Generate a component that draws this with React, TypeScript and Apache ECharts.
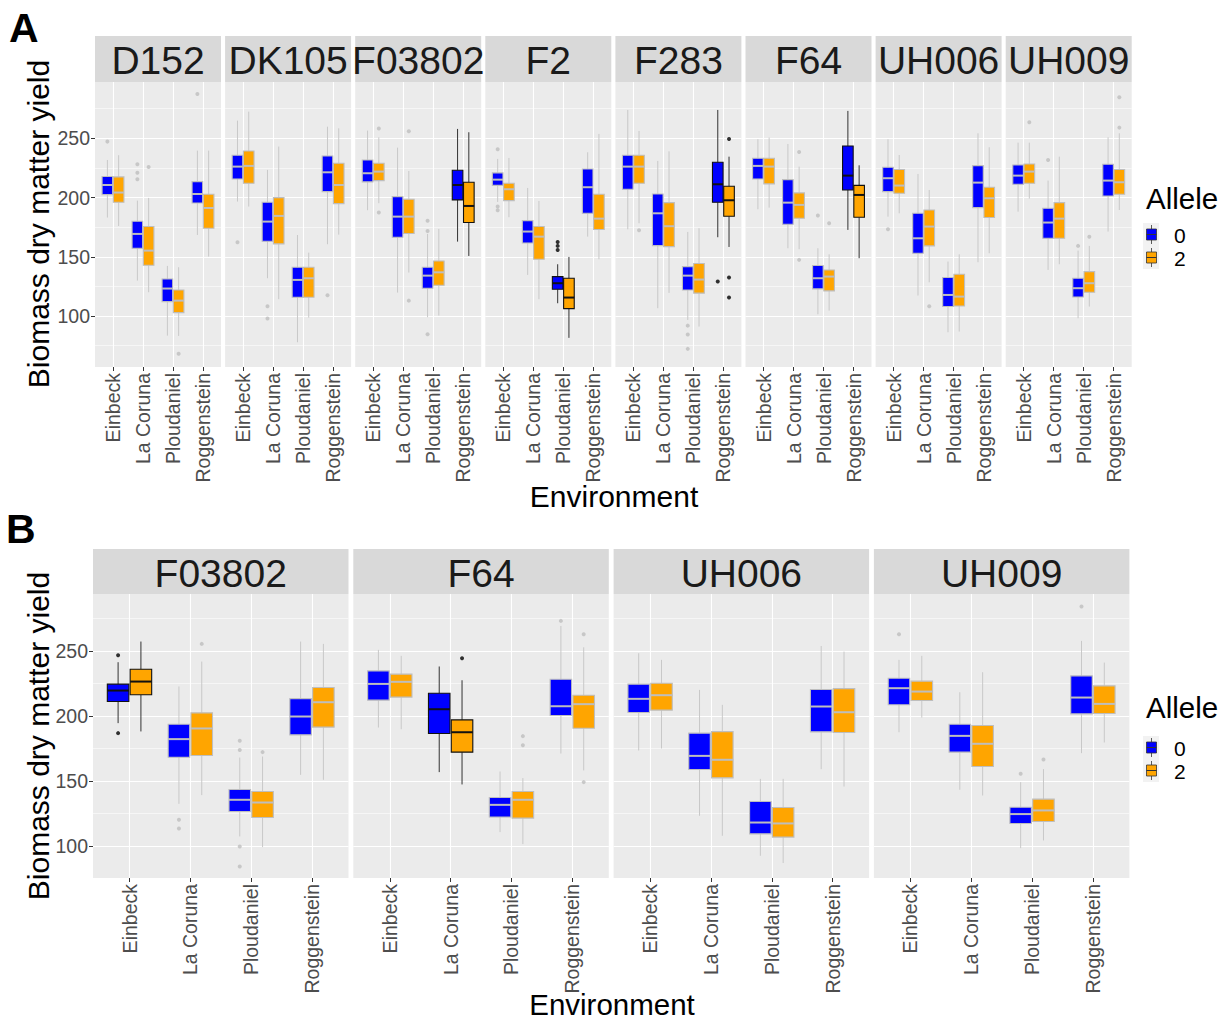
import React, { useEffect, useRef } from 'react';
import * as echarts from 'echarts';

// ---------- data ----------
const environments = ['Einbeck', 'La Coruna', 'Ploudaniel', 'Roggenstein'];
const alleles = ['0', '2'];
const facetsA = ['D152', 'DK105', 'F03802', 'F2', 'F283', 'F64', 'UH006', 'UH009'];
const facetsB = ['F03802', 'F64', 'UH006', 'UH009'];
const yTickValues = [100, 150, 200, 250];
const yMinorA = [75, 125, 175, 225, 275];
const yMinorB = [125, 175, 225, 275];

// box stats per environment: [lower whisker, Q1, median, Q3, upper whisker]
// Panel A
const A_D152_0 = [[183.1, 202.5, 210.6, 217.7, 231.7], [129.9, 157.2, 169.3, 180.0, 197.4], [83.5, 112.2, 123.2, 131.3, 142.3], [168.4, 195.4, 203.0, 213.4, 239.6]];
const A_D152_2 = [[176.0, 196.0, 204.2, 217.4, 235.7], [120.1, 142.9, 155.2, 175.5, 199.7], [83.2, 102.9, 113.0, 122.0, 141.2], [150.2, 174.1, 191.2, 202.8, 239.6]];
const A_DK105_0 = [[196.6, 215.7, 226.1, 235.7, 264.9], [131.9, 163.1, 179.7, 196.0, 223.3], [77.9, 115.9, 130.5, 141.2, 168.4], [160.6, 205.0, 221.3, 235.1, 259.8]];
const A_DK105_2 = [[192.4, 212.0, 226.7, 239.3, 272.5], [114.2, 160.9, 184.5, 199.9, 243.0], [98.7, 115.9, 131.9, 141.2, 153.5], [168.7, 194.9, 210.6, 228.9, 258.4]];
const A_F03802_0 = [[189.3, 213.2, 220.5, 231.7, 256.5], [119.8, 166.5, 183.9, 200.8, 242.1], [99.0, 123.5, 134.1, 141.2, 169.3], [162.8, 198.0, 210.6, 223.0, 257.9]];
const A_F03802_2 = [[195.2, 214.3, 221.9, 228.9, 250.8], [136.7, 169.6, 183.9, 198.5, 222.4], [100.4, 126.0, 136.9, 146.5, 173.5], [150.7, 178.9, 192.9, 212.9, 255.1]];
const A_F2_0 = [[196.3, 210.3, 215.1, 220.8, 232.6], [134.7, 161.7, 171.3, 180.5, 208.1], [110.8, 122.6, 127.7, 133.3, 143.7], [167.0, 186.7, 208.7, 224.1, 238.2]];
const A_F2_2 = [[183.4, 197.4, 207.0, 212.0, 233.4], [114.2, 147.9, 167.0, 175.5, 197.1], [81.6, 106.3, 115.6, 131.9, 149.9], [147.9, 173.0, 182.2, 202.8, 253.7]];
const A_F283_0 = [[173.2, 207.0, 226.1, 235.7, 273.9], [106.6, 159.4, 186.7, 203.0, 230.9], [96.7, 122.0, 134.1, 141.7, 171.0], [166.5, 196.0, 211.2, 229.8, 273.9]];
const A_F283_2 = [[178.3, 212.0, 226.1, 235.7, 256.2], [119.5, 158.6, 175.8, 195.7, 239.0], [91.1, 119.3, 130.8, 144.3, 174.1], [158.3, 184.2, 197.7, 209.5, 234.5]];
const A_F64_0 = [[190.1, 215.7, 226.7, 233.1, 249.2], [157.2, 177.4, 195.7, 215.1, 245.2], [101.5, 122.9, 131.9, 142.6, 157.2], [172.7, 206.4, 218.5, 243.5, 273.1]];
const A_F64_2 = [[191.5, 211.5, 226.1, 233.1, 250.6], [156.4, 182.5, 193.8, 203.9, 226.1], [104.6, 121.2, 133.3, 138.9, 152.1], [148.8, 183.4, 202.2, 210.3, 227.2]];
const A_UH006_0 = [[183.9, 205.0, 216.3, 225.5, 249.2], [117.3, 153.0, 165.6, 186.7, 219.9], [86.3, 108.0, 117.8, 132.5, 146.0], [145.4, 191.5, 212.6, 226.9, 254.2]];
const A_UH006_2 = [[186.7, 203.6, 210.1, 223.6, 235.9], [128.5, 159.2, 175.5, 189.5, 206.4], [86.9, 108.5, 116.4, 135.3, 152.1], [153.0, 183.1, 199.4, 208.7, 242.4]];
const A_UH009_0 = [[188.1, 211.2, 218.5, 227.5, 246.3], [138.9, 165.6, 178.9, 190.9, 214.3], [98.1, 116.1, 123.5, 131.9, 155.2], [171.3, 201.3, 214.3, 228.1, 250.8]];
const A_UH009_2 = [[199.1, 212.0, 221.9, 228.3, 246.3], [143.7, 165.6, 182.2, 195.7, 234.5], [108.0, 120.1, 127.7, 137.5, 159.2], [189.5, 202.8, 212.9, 223.6, 254.2]];

// outliers: [environment index, value]
const A_D152_out0 = [[0, 247.2], [1, 228.1], [1, 221.0], [1, 215.4], [3, 287.4]];
const A_D152_out2 = [[1, 225.8], [2, 68.1]];
const A_DK105_out0 = [[0, 162.3], [1, 108.3], [1, 97.9], [3, 117.5]];
const A_DK105_out2: number[][] = [];
const A_F03802_out0 = [[2, 180.5], [2, 171.8], [2, 84.6]];
const A_F03802_out2 = [[0, 258.2], [0, 187.3], [1, 255.9], [1, 113.0]];
const A_F2_out0 = [[0, 240.7], [0, 192.4], [0, 189.3], [2, 162.5], [2, 159.2], [2, 155.8]];
const A_F2_out2: number[][] = [];
const A_F283_out0 = [[2, 91.9], [2, 84.4], [2, 72.3], [3, 129.1]];
const A_F283_out2 = [[0, 172.4], [3, 249.4], [3, 132.5], [3, 115.6]];
const A_F64_out0 = [[2, 184.8]];
const A_F64_out2 = [[1, 238.5], [1, 147.4], [2, 178.3]];
const A_UH006_out0 = [[0, 173.2]];
const A_UH006_out2 = [[1, 108.3]];
const A_UH009_out0 = [[1, 231.7], [2, 159.2]];
const A_UH009_out2 = [[0, 263.5], [2, 167.0], [3, 259.0], [3, 284.6]];

// Panel B
const B_F03802_0 = [[194.4, 211.0, 219.5, 224.4, 241.3], [132.3, 168.2, 182.1, 193.6, 222.6], [107.2, 126.4, 135.4, 143.3, 167.9], [154.6, 185.4, 199.5, 213.3, 257.2]];
const B_F03802_2 = [[188.0, 216.2, 226.4, 235.9, 257.2], [139.0, 169.5, 190.3, 202.3, 241.8], [99.0, 121.8, 133.3, 141.8, 168.7], [150.8, 191.3, 210.5, 221.8, 255.4]];
const B_F64_0 = [[191.0, 212.1, 224.6, 234.6, 250.8], [156.7, 186.4, 205.1, 217.4, 238.0], [110.5, 122.1, 131.5, 137.2, 157.2], [171.0, 200.3, 207.4, 228.2, 269.2]];
const B_F64_2 = [[189.7, 214.4, 226.2, 232.1, 246.2], [147.2, 172.1, 187.4, 196.9, 227.4], [101.3, 121.3, 135.4, 141.8, 152.1], [158.0, 190.5, 209.0, 215.9, 252.8]];
const B_UH006_0 = [[173.3, 202.6, 213.1, 224.4, 248.2], [123.1, 158.7, 169.2, 186.7, 220.0], [92.3, 109.2, 117.9, 134.1, 151.5], [159.0, 187.7, 207.2, 220.3, 253.8]];
const B_UH006_2 = [[174.9, 204.4, 215.9, 225.1, 243.1], [107.7, 152.3, 166.2, 187.9, 208.5], [86.7, 106.7, 117.2, 129.5, 151.5], [145.6, 187.2, 202.8, 221.0, 249.5]];
const B_UH009_0 = [[187.4, 208.5, 221.3, 229.0, 243.1], [143.1, 172.1, 184.6, 193.6, 218.2], [98.2, 117.2, 124.4, 129.7, 149.0], [171.3, 201.5, 214.1, 230.8, 257.7]];
const B_UH009_2 = [[198.7, 211.8, 218.7, 226.7, 246.2], [138.7, 161.0, 178.5, 192.6, 233.6], [104.1, 118.7, 127.2, 135.9, 159.0], [179.5, 201.8, 209.2, 223.1, 241.0]];

const B_F03802_out0 = [[0, 246.7], [0, 186.7], [1, 120.0], [1, 113.3], [2, 180.8], [2, 173.8], [2, 99.5], [2, 84.1]];
const B_F03802_out2 = [[1, 255.4], [2, 172.1]];
const B_F64_out0 = [[3, 273.1]];
const B_F64_out2 = [[1, 244.4], [2, 184.4], [2, 177.4], [3, 262.8], [3, 149.0]];
const B_UH006_out0: number[][] = [];
const B_UH006_out2: number[][] = [];
const B_UH009_out0 = [[0, 262.8], [2, 155.4], [3, 284.1]];
const B_UH009_out2 = [[2, 166.4]];

// environments drawn with black outline
const highlightA: Record<string, number[]> = { F03802: [3], F2: [2], F283: [3], F64: [3] };
const highlightB: Record<string, number[]> = { F03802: [0], F64: [1] };

const statsA: Record<string, number[][][]> = {
  D152: [A_D152_0, A_D152_2], DK105: [A_DK105_0, A_DK105_2], F03802: [A_F03802_0, A_F03802_2],
  F2: [A_F2_0, A_F2_2], F283: [A_F283_0, A_F283_2], F64: [A_F64_0, A_F64_2],
  UH006: [A_UH006_0, A_UH006_2], UH009: [A_UH009_0, A_UH009_2],
};
const outA: Record<string, number[][][]> = {
  D152: [A_D152_out0, A_D152_out2], DK105: [A_DK105_out0, A_DK105_out2], F03802: [A_F03802_out0, A_F03802_out2],
  F2: [A_F2_out0, A_F2_out2], F283: [A_F283_out0, A_F283_out2], F64: [A_F64_out0, A_F64_out2],
  UH006: [A_UH006_out0, A_UH006_out2], UH009: [A_UH009_out0, A_UH009_out2],
};
const statsB: Record<string, number[][][]> = {
  F03802: [B_F03802_0, B_F03802_2], F64: [B_F64_0, B_F64_2], UH006: [B_UH006_0, B_UH006_2], UH009: [B_UH009_0, B_UH009_2],
};
const outB: Record<string, number[][][]> = {
  F03802: [B_F03802_out0, B_F03802_out2], F64: [B_F64_out0, B_F64_out2], UH006: [B_UH006_out0, B_UH006_out2], UH009: [B_UH009_out0, B_UH009_out2],
};

// ---------- styling ----------
const FONT = '"Liberation Sans", Arial, Helvetica, sans-serif';
const FILL = ['#0000FF', '#FFA500'];
const GREY = '#BEBEBE';
const BLACK = '#111111';
const DODGE = 0.1875;
const HALF_BOX = 0.177;

interface RowLayout {
  left: number; pitch: number; width: number; top: number; height: number;
  stripTop: number; yMin: number; yMax: number; minor: number[];
}
const rowA: RowLayout = { left: 95, pitch: 130.1, width: 126, top: 82, height: 285, stripTop: 36, yMin: 57, yMax: 297.5, minor: yMinorA };
const rowB: RowLayout = { left: 93, pitch: 260.3, width: 255.5, top: 594, height: 284, stripTop: 549, yMin: 75.2, yMax: 293.8, minor: yMinorB };

function buildOption() {
  const grid: any[] = [];
  const xAxis: any[] = [];
  const yAxis: any[] = [];
  const series: any[] = [];
  const graphic: any[] = [];
  const stripTexts: any[] = [];

  const addRow = (row: RowLayout, facets: string[], stats: Record<string, number[][][]>, outs: Record<string, number[][][]>, hl: Record<string, number[]>) => {
    facets.forEach((facet, i) => {
      const gi = grid.length;
      const left = row.left + i * row.pitch;
      grid.push({ left, top: row.top, width: row.width, height: row.height, show: true, backgroundColor: '#EBEBEB', borderWidth: 0 });
      xAxis.push({
        type: 'value', gridIndex: gi, min: 0.4, max: 4.6,
        axisLine: { show: false },
        axisTick: { show: true, customValues: [1, 2, 3, 4], length: 4, lineStyle: { color: '#333333', width: 1 } },
        axisLabel: {
          show: true, customValues: [1, 2, 3, 4], rotate: 90, margin: 6, fontSize: 19.5, color: '#4D4D4D', fontFamily: FONT,
          formatter: (v: number) => environments[Math.round(v) - 1] ?? '',
        },
        splitLine: { show: true, lineStyle: { color: '#FFFFFF', width: 1.1 } },
      });
      yAxis.push({
        type: 'value', gridIndex: gi, min: row.yMin, max: row.yMax, position: 'left',
        axisLine: { show: false },
        axisTick: { show: i === 0, customValues: yTickValues, length: 4, lineStyle: { color: '#333333', width: 1 } },
        axisLabel: { show: i === 0, customValues: yTickValues, margin: 5, fontSize: 19.5, color: '#4D4D4D', fontFamily: FONT },
        splitLine: { show: true, lineStyle: { color: '#FFFFFF', width: 1.1 } },
      });
      yAxis.push({
        type: 'value', gridIndex: gi, min: row.yMin, max: row.yMax, position: 'left',
        axisLine: { show: false },
        axisTick: { show: false, customValues: row.minor },
        axisLabel: { show: false, customValues: row.minor },
        splitLine: { show: true, lineStyle: { color: '#FFFFFF', width: 0.55 } },
      });
      const yIdx = 2 * gi;
      const hlList = hl[facet] || [];
      alleles.forEach((allele, a) => {
        const off = a === 0 ? -DODGE : DODGE;
        series.push({
          type: 'custom', name: `${facet} allele ${allele}`, xAxisIndex: gi, yAxisIndex: yIdx, silent: true, z: 2,
          encode: { x: 0, y: [1, 2, 3, 4, 5] },
          data: stats[facet][a].map((s, e) => [e + 1 + off, s[0], s[1], s[2], s[3], s[4], hlList.includes(e) ? 1 : 0]),
          renderItem: (_p: any, api: any) => {
            const x = api.value(0);
            const pMin = api.coord([x, api.value(1)]);
            const pQ1 = api.coord([x, api.value(2)]);
            const pMed = api.coord([x, api.value(3)]);
            const pQ3 = api.coord([x, api.value(4)]);
            const pMax = api.coord([x, api.value(5)]);
            const xl = api.coord([x - HALF_BOX, api.value(3)])[0];
            const xr = api.coord([x + HALF_BOX, api.value(3)])[0];
            const isHl = api.value(6) === 1;
            const stroke = isHl ? BLACK : GREY;
            const wStroke = isHl ? '#333333' : '#C8C8C8';
            return {
              type: 'group',
              children: [
                { type: 'line', shape: { x1: pQ3[0], y1: pQ3[1], x2: pMax[0], y2: pMax[1] }, style: { stroke: wStroke, lineWidth: 1 } },
                { type: 'line', shape: { x1: pQ1[0], y1: pQ1[1], x2: pMin[0], y2: pMin[1] }, style: { stroke: wStroke, lineWidth: 1 } },
                { type: 'rect', shape: { x: xl, y: pQ3[1], width: xr - xl, height: pQ1[1] - pQ3[1] }, style: { fill: FILL[a], stroke, lineWidth: 1.1 } },
                { type: 'line', shape: { x1: xl, y1: pMed[1], x2: xr, y2: pMed[1] }, style: { stroke, lineWidth: 2 } },
              ],
            };
          },
        });
        series.push({
          type: 'scatter', name: `${facet} outliers ${allele}`, xAxisIndex: gi, yAxisIndex: yIdx, silent: true, z: 3,
          symbol: 'circle', symbolSize: 4,
          data: outs[facet][a].map(([e, v]) => ({ value: [e + 1 + off, v], itemStyle: { color: hlList.includes(e) ? '#000000' : GREY } })),
        });
      });
      graphic.push({ type: 'rect', shape: { x: left, y: row.stripTop, width: row.width, height: row.top - row.stripTop }, style: { fill: '#D9D9D9' }, z: 10 });
      stripTexts.push({
        type: 'text', x: left + row.width / 2, y: (row.top + row.stripTop) / 2 + 1.5,
        style: { text: facet, fill: '#1A1A1A', fontSize: 39, fontFamily: FONT, textAlign: 'center', textVerticalAlign: 'middle' }, z: 11,
      });
    });
  };

  addRow(rowA, facetsA, statsA, outA, highlightA);
  addRow(rowB, facetsB, statsB, outB, highlightB);

  const titleStyle = { fill: '#000000', fontSize: 30, fontFamily: FONT, textAlign: 'center', textVerticalAlign: 'middle' };
  const yTitle = 'Biomass dry matter yield';
  const xTitle = 'Environment';
  graphic.push(...stripTexts);
  graphic.push(
    { type: 'text', x: 38, y: 224, rotation: Math.PI / 2, style: { ...titleStyle, text: yTitle }, z: 11 },
    { type: 'text', x: 38, y: 736, rotation: Math.PI / 2, style: { ...titleStyle, text: yTitle }, z: 11 },
    { type: 'text', x: 614, y: 496, style: { ...titleStyle, text: xTitle }, z: 11 },
    { type: 'text', x: 612, y: 1004, style: { ...titleStyle, fontSize: 29.5, text: xTitle }, z: 11 },
    { type: 'text', x: 9, y: 28, style: { text: 'A', fill: '#000', fontSize: 41, fontWeight: 'bold', fontFamily: FONT, textAlign: 'left', textVerticalAlign: 'middle' }, z: 11 },
    { type: 'text', x: 6, y: 529, style: { text: 'B', fill: '#000', fontSize: 41, fontWeight: 'bold', fontFamily: FONT, textAlign: 'left', textVerticalAlign: 'middle' }, z: 11 },
  );

  const addLegend = (titleY: number, keyTop: number) => {
    graphic.push({ type: 'text', x: 1146, y: titleY, style: { text: 'Allele', fill: '#000', fontSize: 29.5, fontFamily: FONT, textAlign: 'left', textVerticalAlign: 'middle' }, z: 11 });
    alleles.forEach((allele, a) => {
      const top = keyTop + a * 23;
      const cx = 1151.5;
      graphic.push(
        { type: 'rect', shape: { x: 1143, y: top, width: 16, height: 23 }, style: { fill: '#F2F2F2' }, z: 10 },
        { type: 'line', shape: { x1: cx, y1: top + 2, x2: cx, y2: top + 21 }, style: { stroke: '#333333', lineWidth: 0.8 }, z: 11 },
        { type: 'rect', shape: { x: 1146.5, y: top + 6, width: 10, height: 11 }, style: { fill: FILL[a], stroke: '#333333', lineWidth: 0.8 }, z: 11 },
        { type: 'line', shape: { x1: 1146.5, y1: top + 11.5, x2: 1156.5, y2: top + 11.5 }, style: { stroke: '#333333', lineWidth: 1 }, z: 11 },
        { type: 'text', x: 1174, y: top + 12.5, style: { text: allele, fill: '#000', fontSize: 21, fontFamily: FONT, textAlign: 'left', textVerticalAlign: 'middle' }, z: 11 },
      );
    });
  };
  addLegend(198, 223);
  addLegend(707, 736);

  return { animation: false, backgroundColor: '#FFFFFF', grid, xAxis, yAxis, series, graphic };
}

export default function App() {
  const ref = useRef<HTMLDivElement>(null);
  useEffect(() => {
    document.body.style.margin = '0';
    if (!ref.current) return;
    const chart = echarts.init(ref.current, undefined, { renderer: 'svg' });
    chart.setOption(buildOption() as any);
    return () => chart.dispose();
  }, []);
  return <div ref={ref} style={{ width: 1219, height: 1021 }} />;
}
